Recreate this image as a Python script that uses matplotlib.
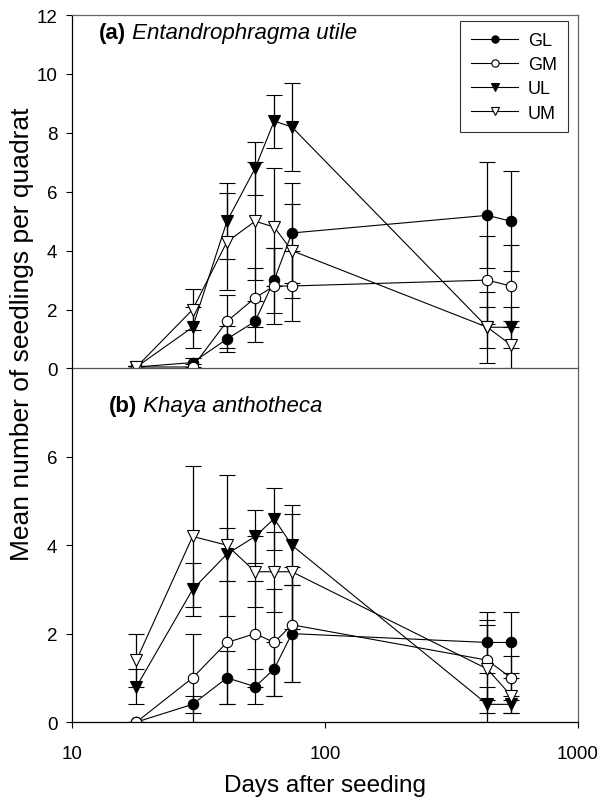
import numpy as np
import matplotlib
matplotlib.use("Agg")
import matplotlib.pyplot as plt
from matplotlib.lines import Line2D

plt.rcParams['font.family'] = ['Liberation Sans', 'DejaVu Sans']

days = [18, 30, 41, 53, 63, 74, 438, 543]
series = ['GL', 'GM', 'UL', 'UM']

# (a) Entandrophragma utile
a_GL = [0.05, 0.2, 1.0, 1.6, 3.0, 4.6, 5.2, 5.0]
a_GL_err = [0.05, 0.15, 0.45, 0.7, 1.1, 1.7, 1.8, 1.7]
a_GM = [0.05, 0.05, 1.6, 2.4, 2.8, 2.8, 3.0, 2.8]
a_GM_err = [0.05, 0.1, 0.9, 1.0, 1.3, 1.2, 1.5, 1.4]
a_UL = [0.05, 1.4, 5.0, 6.8, 8.4, 8.2, 1.4, 1.4]
a_UL_err = [0.05, 0.7, 1.3, 0.9, 0.9, 1.5, 0.7, 0.7]
a_UM = [0.05, 2.0, 4.3, 5.0, 4.8, 4.0, 1.4, 0.8]
a_UM_err = [0.05, 0.7, 1.65, 2.0, 2.0, 1.6, 1.2, 0.8]

# (b) Khaya anthotheca
b_GL = [0.0, 0.4, 1.0, 0.8, 1.2, 2.0, 1.8, 1.8]
b_GL_err = [0.0, 0.2, 0.6, 0.4, 0.6, 1.1, 0.7, 0.7]
b_GM = [0.0, 1.0, 1.8, 2.0, 1.8, 2.2, 1.4, 1.0]
b_GM_err = [0.0, 1.0, 1.4, 1.2, 1.2, 1.3, 0.9, 0.5]
b_UL = [0.8, 3.0, 3.8, 4.2, 4.6, 4.0, 0.4, 0.4]
b_UL_err = [0.4, 0.6, 0.6, 0.6, 0.7, 0.9, 0.4, 0.2]
b_UM = [1.4, 4.2, 4.0, 3.4, 3.4, 3.4, 1.2, 0.6]
b_UM_err = [0.6, 1.6, 1.6, 0.8, 0.9, 1.3, 1.0, 0.4]

styles = {
    'GL': dict(marker='o', mfc='black', ms=7.5),
    'GM': dict(marker='o', mfc='white', ms=7.5),
    'UL': dict(marker='v', mfc='black', ms=8),
    'UM': dict(marker='v', mfc='white', ms=8),
}

fig = plt.figure(figsize=(5.99, 8.03), dpi=100)
L, R = 0.120, 0.965
mid, top, bot = 0.5399, 0.980, 0.0996
ax1 = fig.add_axes([L, mid, R - L, top - mid])
ax2 = fig.add_axes([L, bot, R - L, mid - bot], sharex=ax1)
ax2.patch.set_visible(False)

panels = [
    (ax1, [(a_GL, a_GL_err), (a_GM, a_GM_err), (a_UL, a_UL_err), (a_UM, a_UM_err)]),
    (ax2, [(b_GL, b_GL_err), (b_GM, b_GM_err), (b_UL, b_UL_err), (b_UM, b_UM_err)]),
]

for ax, data in panels:
    for name, (vals, err) in zip(series, data):
        st = styles[name]
        ax.errorbar(days, vals, yerr=err, color='black', lw=0.8, elinewidth=0.9,
                    capsize=5.5, capthick=0.9, marker=st['marker'], ms=st['ms'],
                    mfc=st['mfc'], mec='black', mew=0.8, label=name)
    ax.set_xscale('log')
    ax.set_xlim(10, 1000)
    ax.tick_params(direction='out', labelsize=13.5, length=4.5, width=0.8, pad=6)
    ax.tick_params(which='minor', length=0)
    for s in ['top', 'right']:
        ax.spines[s].set_color('#666666')
    for s in ax.spines.values():
        s.set_linewidth(0.9)

ax1.set_ylim(0, 12)
ax1.set_yticks([0, 2, 4, 6, 8, 10, 12])
ax1.tick_params(axis='x', which='both', bottom=False, labelbottom=False)
ax1.spines['bottom'].set_color('#555555')

ax2.set_ylim(0, 8)
ax2.set_yticks([0, 2, 4, 6])
ax2.set_xticks([10, 100, 1000])
ax2.set_xticklabels(['10', '100', '1000'])
ax2.tick_params(axis='x', pad=12)
ax2.spines['top'].set_visible(False)

t1 = ax1.text(0.053, 0.952, '(a)', transform=ax1.transAxes, fontsize=16,
              fontweight='bold', va='center', ha='left')
ax1.annotate(' Entandrophragma utile', xy=(1, 0), xycoords=t1, va='bottom',
             ha='left', fontsize=16, style='italic')
t2 = ax2.text(0.073, 0.894, '(b)', transform=ax2.transAxes, fontsize=16,
              fontweight='bold', va='center', ha='left')
ax2.annotate(' Khaya anthotheca', xy=(1, 0), xycoords=t2, va='bottom',
             ha='left', fontsize=16, style='italic')

handles = [Line2D([], [], color='black', lw=0.8, marker=styles[n]['marker'],
                  ms=styles[n]['ms'] * 0.7, mfc=styles[n]['mfc'], mec='black',
                  mew=0.8) for n in series]
leg = ax1.legend(handles, series, loc='upper right', bbox_to_anchor=(0.980, 0.983),
                 fontsize=13, handlelength=2.6, frameon=True, fancybox=False,
                 edgecolor='black', labelspacing=0.4, borderpad=0.6,
                 handletextpad=0.55, borderaxespad=0)
leg.get_frame().set_linewidth(0.8)

fig.text(0.036, 0.584, 'Mean number of seedlings per quadrat', rotation=90,
         ha='center', va='center', fontsize=19)
fig.text((L + R) / 2, 1 - 786 / 803, 'Days after seeding', ha='center',
         va='center', fontsize=17.5)

fig.savefig('out.png', dpi=100)
